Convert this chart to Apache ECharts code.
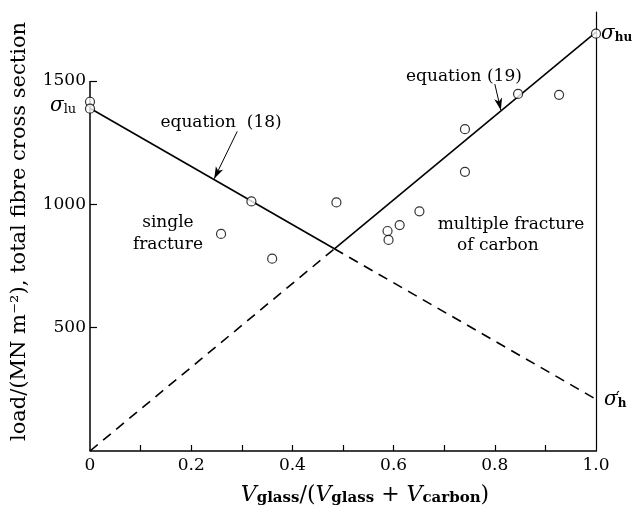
<!DOCTYPE html>
<html>
<head>
<meta charset="utf-8">
<script src="https://cdn.jsdelivr.net/npm/echarts@6/dist/echarts.min.js"></script>
<style>
html, body { margin: 0; background: #fff; }
#chart { width: 633px; height: 511px; }
</style>
</head>
<body>
<div id="chart"></div>
<script>
var serif = '"DejaVu Serif", "Liberation Serif", serif';
var ink = '#000';

// axis ticks
var xLabelVals = [0, 0.2, 0.4, 0.6, 0.8, 1.0];
var xTickVals = [0.1, 0.2, 0.3, 0.4, 0.5, 0.6, 0.7, 0.8, 0.9];
var yLabelVals = [500, 1000, 1500];

// theory lines: x, equation (18), equation (19)
var lineX = [0, 0.483, 1.0];
var eq18Y = [1390, 820, 210];
var eq19Y = [0, 820, 1698];

// measured points
var ptX = [0, 0, 0.259, 0.319, 0.36, 0.487, 0.588, 0.59, 0.612, 0.651, 0.741, 0.741, 0.846, 0.927, 1.0];
var ptY = [1416, 1388, 880, 1012, 780, 1008, 892, 856, 916, 972, 1132, 1305, 1448, 1444, 1692];

function seg(ys, i, j) {
	return [[lineX[i], ys[i]], [lineX[j], ys[j]]];
}
function pts() {
	var out = [];
	for (var i = 0; i < ptX.length; i++) out.push([ptX[i], ptY[i]]);
	return out;
}
function lineSeries(data, dashed) {
	return {
		type: 'line',
		data: data,
		symbol: 'none',
		silent: true,
		lineStyle: { color: ink, width: 1.6, type: dashed ? [10, 7] : 'solid' }
	};
}

var chart = echarts.init(document.getElementById('chart'));

var option = {
	animation: false,
	backgroundColor: '#fff',
	grid: { left: 90, right: 37, top: 12, bottom: 54 },
	xAxis: {
		type: 'value',
		min: 0,
		max: 1,
		splitLine: { show: false },
		axisLine: { show: true, lineStyle: { color: ink, width: 1.5 } },
		axisTick: { show: true, inside: true, length: 6, customValues: xTickVals, lineStyle: { color: ink, width: 1.2 } },
		axisLabel: {
			customValues: xLabelVals,
			color: ink, fontFamily: serif, fontSize: 17, margin: 6,
			formatter: function (v) { return v === 1 ? '1.0' : String(v); }
		},
		name: '{i|V}{s|glass}{t|/(}{i|V}{s|glass}{t| + }{i|V}{s|carbon}{t|)}',
		nameLocation: 'middle',
		nameGap: 33,
		nameTextStyle: {
			padding: [0, 0, 0, 44],
			rich: {
				i: { fontFamily: serif, fontSize: 22, fontStyle: 'italic', color: ink, lineHeight: 22 },
				t: { fontFamily: serif, fontSize: 22, color: ink, lineHeight: 22 },
				s: { fontFamily: serif, fontSize: 15, fontWeight: 'bold', color: ink, lineHeight: 12, verticalAlign: 'bottom' }
			}
		}
	},
	yAxis: [{
		type: 'value',
		min: 0,
		max: 1780,
		splitLine: { show: false },
		axisLine: { show: false },
		axisTick: { show: true, inside: true, length: 7, customValues: yLabelVals, lineStyle: { color: ink, width: 1.2 } },
		axisLabel: {
			customValues: yLabelVals, color: ink, fontFamily: serif, fontSize: 17, margin: 4,
			formatter: function (v) { return String(v); }
		},
		name: 'load/(MN m\u207B\u00B2), total fibre cross section',
		nameLocation: 'middle',
		nameRotate: 90,
		nameGap: 60,
		nameTextStyle: { color: ink, fontFamily: serif, fontSize: 21 }
	}, {
		type: 'value',
		position: 'right',
		min: 0,
		max: 1780,
		splitLine: { show: false },
		axisLine: { show: true, lineStyle: { color: ink, width: 1.2 } },
		axisTick: { show: false },
		axisLabel: { show: false }
	}],
	series: [
		lineSeries(seg(eq18Y, 0, 1), false),
		lineSeries(seg(eq18Y, 1, 2), true),
		lineSeries(seg(eq19Y, 0, 1), true),
		lineSeries(seg(eq19Y, 1, 2), false),
		{
			// left frame line and the two label arrows
			type: 'line',
			data: [],
			silent: true,
			markLine: {
				silent: true,
				animation: false,
				label: { show: false },
				data: [
					[{ coord: [0, 0], symbol: 'none', lineStyle: { type: 'solid', color: ink, width: 1.5 } },
					 { coord: [0, 1500], symbol: 'none' }],
					[{ coord: [0.291, 1296], symbol: 'none', lineStyle: { type: 'solid', color: ink, width: 1 } },
					 { coord: [0.2455, 1104], symbol: 'arrow', symbolSize: [6, 12] }],
					[{ coord: [0.800, 1488], symbol: 'none', lineStyle: { type: 'solid', color: ink, width: 1 } },
					 { coord: [0.812, 1382], symbol: 'arrow', symbolSize: [6, 12] }]
				]
			}
		},
		{
			type: 'scatter',
			data: pts(),
			symbol: 'circle',
			symbolSize: 9,
			z: 5,
			itemStyle: { color: '#fff', borderColor: ink, borderWidth: 1.2 }
		}
	]
};
chart.setOption(option);

// text notes placed in data coordinates
var notes = [
	{ at: [0.259, 1332], text: 'equation  (18)' },
	{ at: [0.739, 1520], text: 'equation (19)' },
	{ at: [0.154, 926], text: 'single' },
	{ at: [0.154, 838], text: 'fracture' },
	{ at: [0.832, 918], text: 'multiple fracture' },
	{ at: [0.806, 834], text: 'of carbon' }
];
var sym = {
	g: { fontFamily: serif, fontSize: 20, fontStyle: 'italic', fill: ink, lineHeight: 20 },
	p: { fontFamily: serif, fontSize: 17, fill: ink },
	s: { fontFamily: serif, fontSize: 13, fill: ink, lineHeight: 10, verticalAlign: 'bottom' },
	b: { fontFamily: serif, fontSize: 12, fontWeight: 'bold', fill: ink, lineHeight: 10, verticalAlign: 'bottom' }
};
var sigmas = [
	{ at: [0, 1400], dx: -40, dy: 0, text: '{g|\u03C3}{s|lu}' },
	{ at: [1.0, 1692], dx: 5, dy: 0, text: '{g|\u03C3}{b|hu}' },
	{ at: [1.0, 208], dx: 8, dy: 0, text: '{g|\u03C3}{b|h}' },
	{ at: [1.0, 208], dx: 20, dy: -1, text: '{p|\u2032}' }
];

var graphics = [];
notes.forEach(function (n) {
	var p = chart.convertToPixel({ gridIndex: 0 }, n.at);
	graphics.push({
		type: 'text', x: p[0], y: p[1], silent: true,
		style: { text: n.text, font: '17px ' + serif, fill: ink, textAlign: 'center', textVerticalAlign: 'middle' }
	});
});
sigmas.forEach(function (s) {
	var p = chart.convertToPixel({ gridIndex: 0 }, s.at);
	graphics.push({
		type: 'text', x: p[0] + s.dx, y: p[1] + s.dy, silent: true,
		style: { text: s.text, rich: sym, textAlign: 'left', textVerticalAlign: 'middle' }
	});
});
chart.setOption({ graphic: graphics });
</script>
</body>
</html>
